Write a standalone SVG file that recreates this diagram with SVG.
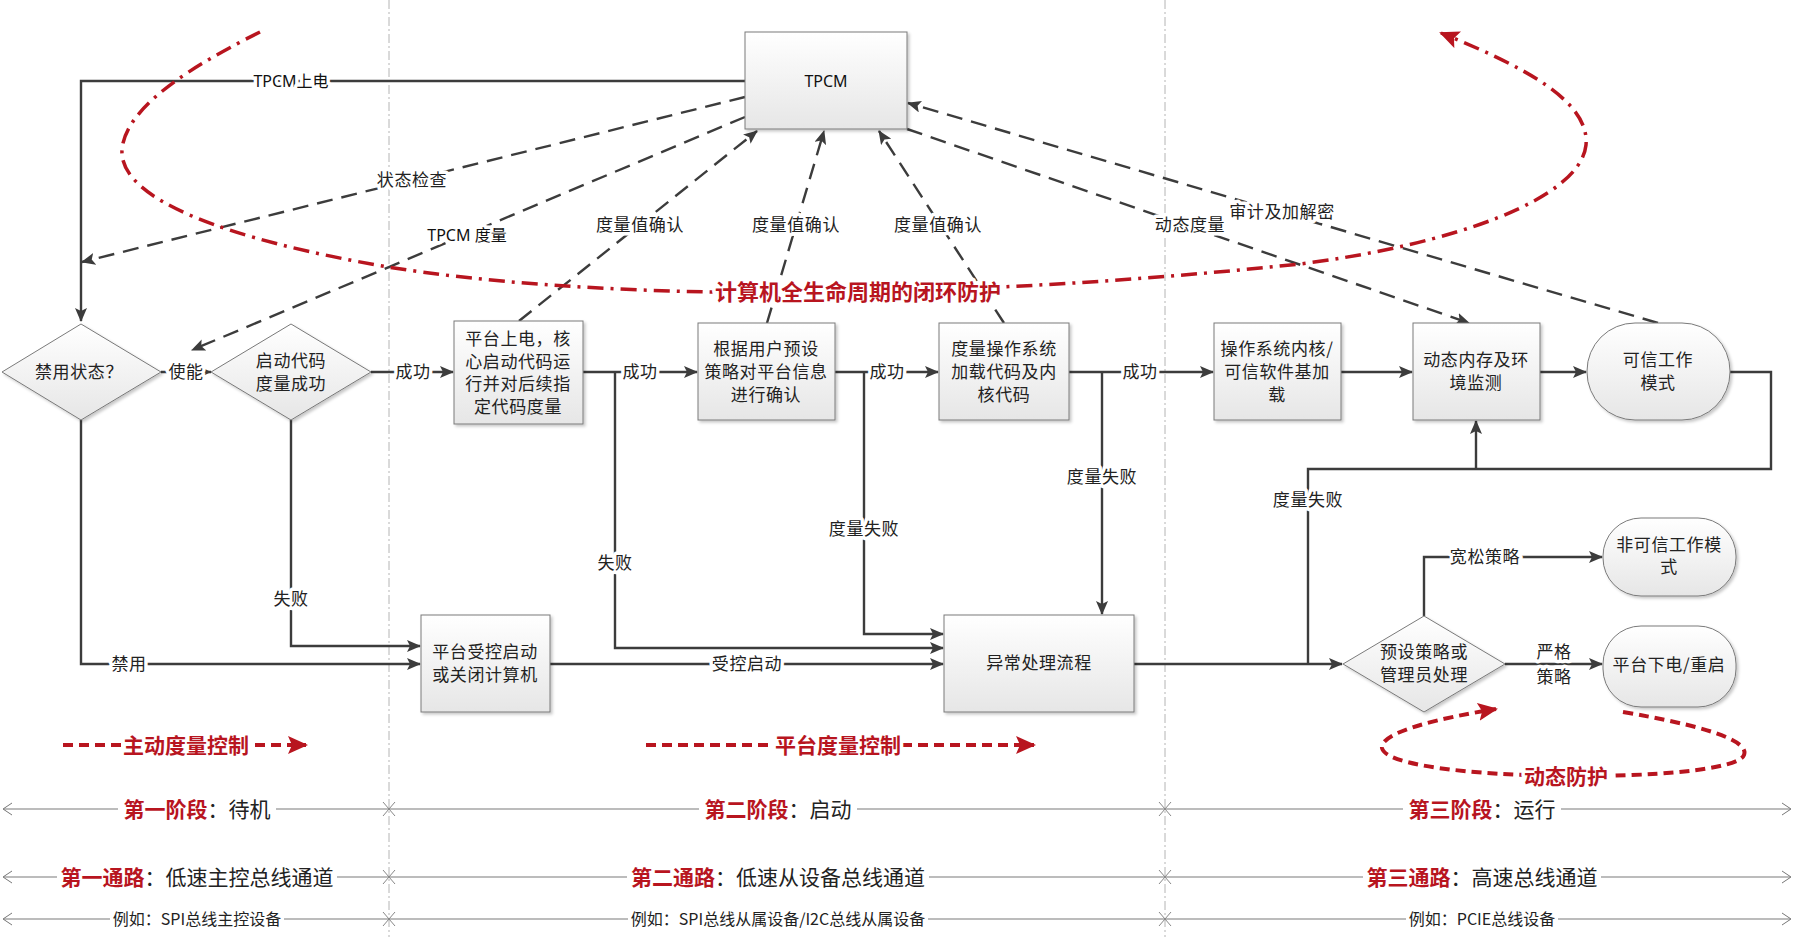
<svg xmlns="http://www.w3.org/2000/svg" width="1794" height="937" viewBox="0 0 1794 937">
<defs>
<linearGradient id="gf" x1="0" y1="0" x2="0" y2="1"><stop offset="0" stop-color="#ffffff"/><stop offset="1" stop-color="#e6e6e6"/></linearGradient>
<filter id="sh" x="-10%" y="-10%" width="130%" height="130%"><feDropShadow dx="2" dy="2" stdDeviation="1.5" flood-color="#000" flood-opacity="0.22"/></filter>
<marker id="arr" markerUnits="userSpaceOnUse" markerWidth="14" markerHeight="12" refX="13" refY="6" orient="auto"><path d="M0,0 L14,6 L0,12 L3,6 z" fill="#3c3c3c"/></marker>
<marker id="arrs" markerUnits="userSpaceOnUse" markerWidth="8" markerHeight="8" refX="8" refY="4" orient="auto"><path d="M0,0 L8,4 L0,8 z" fill="#3c3c3c"/></marker>
<marker id="rarr" markerUnits="userSpaceOnUse" markerWidth="20" markerHeight="18" refX="18" refY="9" orient="auto"><path d="M0,0 L20,9 L0,18 L4,9 z" fill="#b8151f"/></marker>
</defs>
<style>
.node{fill:url(#gf);stroke:#7a7a7a;stroke-width:1;filter:url(#sh)}
.t{font-family:"Noto Sans CJK SC","Noto Sans",sans-serif;font-size:17px;fill:#222;text-anchor:middle;letter-spacing:0.6px}
.lat{font-family:"Noto Sans","Noto Sans CJK SC",sans-serif;font-size:16px;fill:#111;text-anchor:middle}
.h{stroke:#fff;stroke-width:7;stroke-linejoin:round;paint-order:stroke}
.c{fill:none;stroke:#3c3c3c;stroke-width:2.4}
.d{fill:none;stroke:#3c3c3c;stroke-width:2.4;stroke-dasharray:16 9}
.div{stroke:#b4b4b4;stroke-width:1;stroke-dasharray:9 3 2 3}
.red{fill:#b8151f;font-family:"Noto Sans CJK SC",sans-serif;font-weight:bold;text-anchor:middle}
.row{stroke:#7a7a7a;stroke-width:1.2}
.b{font-family:"Noto Sans CJK SC",sans-serif;fill:#222;text-anchor:middle}
.x{stroke:#888;stroke-width:1}
.bg{fill:#fff}
</style>
<rect width="1794" height="937" fill="#fff"/>
<g id="dividers">
<line class="div" x1="389" y1="0" x2="389" y2="937"/>
<line class="div" x1="1165" y1="0" x2="1165" y2="937"/>
</g>
<g id="connectors">
<path class="c" d="M745,81 H81 V321" marker-end="url(#arr)"/>
<path class="c" d="M161,372 H211" marker-end="url(#arrs)"/>
<path class="c" d="M81,420 V664 H420" marker-end="url(#arr)"/>
<path class="c" d="M291,420 V646 H420" marker-end="url(#arr)"/>
<path class="c" d="M371,372 H453" marker-end="url(#arr)"/>
<path class="c" d="M583,372 H697" marker-end="url(#arr)"/>
<path class="c" d="M615,372 V648 H943" marker-end="url(#arr)"/>
<path class="c" d="M835,372 H938" marker-end="url(#arr)"/>
<path class="c" d="M864,372 V634 H943" marker-end="url(#arr)"/>
<path class="c" d="M1069,372 H1213" marker-end="url(#arr)"/>
<path class="c" d="M1102,372 V614" marker-end="url(#arr)"/>
<path class="c" d="M550,664 H943" marker-end="url(#arr)"/>
<path class="c" d="M1341,372 H1412" marker-end="url(#arr)"/>
<path class="c" d="M1540,372 H1586" marker-end="url(#arr)"/>
<path class="c" d="M1730,372 H1771 V469 H1308 V664"/>
<path class="c" d="M1476,469 V421" marker-end="url(#arr)"/>
<path class="c" d="M1134,664 H1342" marker-end="url(#arr)"/>
<path class="c" d="M1424,616 V557 H1602" marker-end="url(#arr)"/>
<path class="c" d="M1505,664 H1602" marker-end="url(#arr)"/>
<path class="d" d="M745,97 L82,262" marker-end="url(#arr)"/>
<path class="d" d="M745,117 L192,350" marker-end="url(#arr)"/>
<path class="d" d="M519,321 L757,131" marker-end="url(#arr)"/>
<path class="d" d="M767,323 L824,131" marker-end="url(#arr)"/>
<path class="d" d="M1004,323 L879,131" marker-end="url(#arr)"/>
<path class="d" d="M907,129 L1469,323" marker-end="url(#arr)"/>
<path class="d" d="M1658,323 L908,103" marker-end="url(#arr)"/>
</g>
<g id="connector-labels">
<text class="lat h" x="291" y="87">TPCM<tspan font-family="Noto Sans CJK SC">上电</tspan></text>
<text class="t h" x="186" y="378">使能</text>
<text class="t h" x="129" y="670">禁用</text>
<text class="t h" x="291" y="605">失败</text>
<text class="t h" x="413" y="378">成功</text>
<text class="t h" x="640" y="378">成功</text>
<text class="t h" x="615" y="569">失败</text>
<text class="t h" x="887" y="378">成功</text>
<text class="t h" x="864" y="535">度量失败</text>
<text class="t h" x="1140" y="378">成功</text>
<text class="t h" x="1102" y="483">度量失败</text>
<text class="t h" x="747" y="670">受控启动</text>
<text class="t h" x="1308" y="506">度量失败</text>
<text class="t h" x="1485" y="563">宽松策略</text>
<text class="t h" x="1554" y="658">严格</text>
<text class="t h" x="1554" y="683">策略</text>
<text class="t h" x="412" y="186">状态检查</text>
<text class="lat h" x="467" y="241">TPCM <tspan font-family="Noto Sans CJK SC">度量</tspan></text>
<text class="t h" x="640" y="231">度量值确认</text>
<text class="t h" x="796" y="231">度量值确认</text>
<text class="t h" x="938" y="231">度量值确认</text>
<text class="t h" x="1190" y="231">动态度量</text>
<text class="t h" x="1282" y="218">审计及加解密</text>
</g>
<g id="n-tpcm"><rect class="node" x="745" y="32" width="162" height="97"/><text class="lat" x="826" y="87">TPCM</text></g>
<g id="n-disabled"><polygon class="node" points="81,324 161,372 81,420 2,372"/><text class="t" x="79" y="378">禁用状态？</text></g>
<g id="n-bootmeasure"><polygon class="node" points="291,324 371,372 291,420 211,372"/><text class="t" x="291" y="367">启动代码<tspan x="291" dy="23">度量成功</tspan></text></g>
<g id="n-poweron"><rect class="node" x="454" y="321" width="129" height="103"/><text class="t" x="518" y="345">平台上电，核<tspan x="518" dy="22.5">心启动代码运</tspan><tspan x="518" dy="22.5">行并对后续指</tspan><tspan x="518" dy="22.5">定代码度量</tspan></text></g>
<g id="n-confirm"><rect class="node" x="698" y="323" width="137" height="97"/><text class="t" x="766" y="355">根据用户预设<tspan x="766" dy="23">策略对平台信息</tspan><tspan x="766" dy="23">进行确认</tspan></text></g>
<g id="n-osmeasure"><rect class="node" x="939" y="323" width="130" height="97"/><text class="t" x="1004" y="355">度量操作系统<tspan x="1004" dy="23">加载代码及内</tspan><tspan x="1004" dy="23">核代码</tspan></text></g>
<g id="n-kernel"><rect class="node" x="1214" y="323" width="127" height="97"/><text class="t" x="1277" y="355">操作系统内核/<tspan x="1277" dy="23">可信软件基加</tspan><tspan x="1277" dy="23">载</tspan></text></g>
<g id="n-monitor"><rect class="node" x="1413" y="323" width="127" height="97"/><text class="t" x="1476" y="366">动态内存及环<tspan x="1476" dy="23">境监测</tspan></text></g>
<g id="n-trusted"><rect class="node" x="1587" y="323" width="143" height="97" rx="48" ry="48"/><text class="t" x="1658" y="366">可信工作<tspan x="1658" dy="23">模式</tspan></text></g>
<g id="n-controlled"><rect class="node" x="421" y="615" width="129" height="97"/><text class="t" x="485" y="658">平台受控启动<tspan x="485" dy="23">或关闭计算机</tspan></text></g>
<g id="n-exception"><rect class="node" x="944" y="615" width="190" height="97"/><text class="t" x="1039" y="669">异常处理流程</text></g>
<g id="n-policy"><polygon class="node" points="1424,616 1505,664 1424,712 1343,664"/><text class="t" x="1424" y="658">预设策略或<tspan x="1424" dy="23">管理员处理</tspan></text></g>
<g id="n-untrusted"><rect class="node" x="1603" y="518" width="133" height="78" rx="38" ry="38"/><text class="t" x="1669" y="551">非可信工作模<tspan x="1669" dy="22">式</tspan></text></g>
<g id="n-reboot"><rect class="node" x="1603" y="626" width="133" height="81" rx="38" ry="38"/><text class="t" x="1669" y="671">平台下电/重启</text></g>
<g id="loop-red">
<path d="M260,32 C200,62 125,105 122,150 C119,200 230,240 388,267 C480,282 600,290 711,292 C900,295 1100,285 1300,264 C1450,245 1580,200 1586,145 C1590,100 1520,65 1441,33" fill="none" stroke="#b8151f" stroke-width="3.5" stroke-dasharray="16 7 3 7" marker-end="url(#rarr)"/>
<text class="red h" x="858" y="300" font-size="22">计算机全生命周期的闭环防护</text>
</g>
<g id="legend-active">
<path d="M63,745 H306" stroke="#b8151f" stroke-width="4" stroke-dasharray="10 6" marker-end="url(#rarr)"/>
<text class="red h" x="186" y="753" font-size="21">主动度量控制</text>
</g>
<g id="legend-platform">
<path d="M646,745 H1034" stroke="#b8151f" stroke-width="4" stroke-dasharray="10 6" marker-end="url(#rarr)"/>
<text class="red h" x="838" y="753" font-size="21">平台度量控制</text>
</g>
<g id="legend-dynamic">
<path d="M1623,712 C1700,725 1750,740 1744,755 C1738,770 1650,777 1563,776 C1470,775 1385,765 1382,748 C1380,732 1440,718 1496,709" fill="none" stroke="#b8151f" stroke-width="4" stroke-dasharray="10 6" marker-end="url(#rarr)"/>
<text class="red h" x="1566" y="784" font-size="21">动态防护</text>
</g>
<g id="phases">
<line class="row" x1="4" y1="809" x2="1790" y2="809"/>
<line class="row" x1="4" y1="877" x2="1790" y2="877"/>
<line class="row" x1="4" y1="919" x2="1790" y2="919" stroke="#999"/>
<path d="M12,803 L3,809 L12,815 M12,871 L3,877 L12,883 M12,913 L3,919 L12,925 M1782,803 L1791,809 L1782,815 M1782,871 L1791,877 L1782,883 M1782,913 L1791,919 L1782,925" fill="none" stroke="#777" stroke-width="1"/>
<path class="x" d="M383,802 L395,816 M395,802 L383,816 M383,870 L395,884 M395,870 L383,884 M383,912 L395,926 M395,912 L383,926 M1159,802 L1171,816 M1171,802 L1159,816 M1159,870 L1171,884 M1171,870 L1159,884 M1159,912 L1171,926 M1171,912 L1159,926"/>
<rect class="bg" x="118" y="796" width="158" height="26"/>
<rect class="bg" x="699" y="796" width="158" height="26"/>
<rect class="bg" x="1403" y="796" width="158" height="26"/>
<rect class="bg" x="57" y="864" width="280" height="26"/>
<rect class="bg" x="627" y="864" width="302" height="26"/>
<rect class="bg" x="1363" y="864" width="238" height="26"/>
<rect class="bg" x="110" y="909" width="174" height="21"/>
<rect class="bg" x="628" y="909" width="300" height="21"/>
<rect class="bg" x="1406" y="909" width="152" height="21"/>
<text class="b" x="197" y="817" font-size="21"><tspan fill="#b8151f" font-weight="bold">第一阶段</tspan>：待机</text>
<text class="b" x="778" y="817" font-size="21"><tspan fill="#b8151f" font-weight="bold">第二阶段</tspan>：启动</text>
<text class="b" x="1482" y="817" font-size="21"><tspan fill="#b8151f" font-weight="bold">第三阶段</tspan>：运行</text>
<text class="b" x="197" y="885" font-size="21"><tspan fill="#b8151f" font-weight="bold">第一通路</tspan>：低速主控总线通道</text>
<text class="b" x="778" y="885" font-size="21"><tspan fill="#b8151f" font-weight="bold">第二通路</tspan>：低速从设备总线通道</text>
<text class="b" x="1482" y="885" font-size="21"><tspan fill="#b8151f" font-weight="bold">第三通路</tspan>：高速总线通道</text>
<text class="b" x="197" y="925" font-size="16">例如：SPI总线主控设备</text>
<text class="b" x="778" y="925" font-size="16">例如：SPI总线从属设备/I2C总线从属设备</text>
<text class="b" x="1482" y="925" font-size="16">例如：PCIE总线设备</text>
</g>
</svg>
